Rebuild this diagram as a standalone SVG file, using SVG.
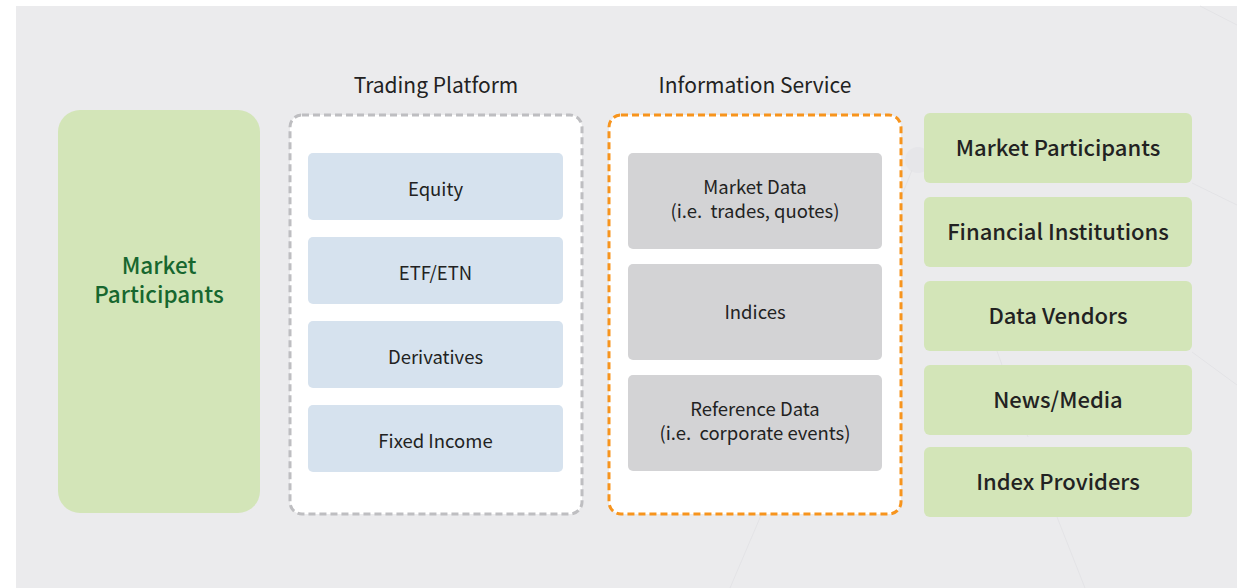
<svg xmlns="http://www.w3.org/2000/svg" width="1237" height="588" viewBox="0 0 1237 588">
  <defs>
    <style>
      .t { font-family: "Noto Sans CJK KR", "Noto Sans", "Liberation Sans", sans-serif; text-anchor: middle; fill: #222222; font-weight: 500; }
      .title { font-size: 21px; font-weight: 400; }
      .inner { font-size: 18.5px; font-weight: 400; }
      .right { font-size: 22px; }
      .green { fill: #D3E5B8; }
      .blue { fill: #D6E2EE; }
      .gray { fill: #D3D3D5; }
      .deco { stroke: #E3E3E6; stroke-width: 1; fill: none; }
    </style>
  </defs>
  <rect x="0" y="0" width="1237" height="588" fill="#FFFFFF"/>
  <rect x="16" y="6" width="1221" height="582" fill="#EBEBED"/>

  <g id="background-decor">
    <circle cx="918" cy="160" r="13" fill="#E6E6E9"/>
    <line class="deco" x1="912" y1="170" x2="900" y2="200"/>
    <line class="deco" x1="993" y1="340" x2="1028" y2="437"/>
    <line class="deco" x1="1057" y1="517" x2="1085" y2="588"/>
    <line class="deco" x1="762" y1="513" x2="730" y2="588"/>
    <line class="deco" x1="1192" y1="352" x2="1237" y2="385"/>
    <line class="deco" x1="1192" y1="183" x2="1237" y2="205"/>
    <line class="deco" x1="1200" y1="6" x2="1237" y2="25"/>
  </g>

  <g id="market-participants-left">
    <rect x="58" y="110" width="202" height="403" rx="22" class="green"/>
    <text class="t" x="159" y="274" font-size="22.5" style="fill:#17672F">Market</text>
    <text class="t" x="159" y="303" font-size="22.5" style="fill:#17672F">Participants</text>
  </g>

  <g id="trading-platform">
    <text class="t title" x="436" y="93">Trading Platform</text>
    <rect x="290" y="115" width="292" height="399" rx="12" fill="#FFFFFF" stroke="#BEBEC1" stroke-width="3" stroke-dasharray="7,4"/>
  </g>
  <g id="equity">
    <rect x="308" y="153" width="255" height="67" rx="5" class="blue"/>
    <text class="t inner" x="435.5" y="196">Equity</text>
  </g>
  <g id="etf-etn">
    <rect x="308" y="237" width="255" height="67" rx="5" class="blue"/>
    <text class="t inner" x="435.5" y="280">ETF/ETN</text>
  </g>
  <g id="derivatives">
    <rect x="308" y="321" width="255" height="67" rx="5" class="blue"/>
    <text class="t inner" x="435.5" y="364">Derivatives</text>
  </g>
  <g id="fixed-income">
    <rect x="308" y="405" width="255" height="67" rx="5" class="blue"/>
    <text class="t inner" x="435.5" y="448">Fixed Income</text>
  </g>

  <g id="information-service">
    <text class="t title" x="755" y="93">Information Service</text>
    <rect x="609" y="115" width="292" height="399" rx="12" fill="#FFFFFF" stroke="#F7941D" stroke-width="3" stroke-dasharray="7,4"/>
  </g>
  <g id="market-data">
    <rect x="628" y="153" width="254" height="96" rx="5" class="gray"/>
    <text class="t inner" x="755" y="194">Market Data</text>
    <text class="t inner" x="755" y="218">(i.e.&#160; trades, quotes)</text>
  </g>
  <g id="indices">
    <rect x="628" y="264" width="254" height="96" rx="5" class="gray"/>
    <text class="t inner" x="755" y="319">Indices</text>
  </g>
  <g id="reference-data">
    <rect x="628" y="375" width="254" height="96" rx="5" class="gray"/>
    <text class="t inner" x="755" y="416">Reference Data</text>
    <text class="t inner" x="755" y="440">(i.e.&#160; corporate events)</text>
  </g>

  <g id="market-participants-right">
    <rect x="924" y="113" width="268" height="70" rx="6" class="green"/>
    <text class="t right" x="1058" y="156">Market Participants</text>
  </g>
  <g id="financial-institutions">
    <rect x="924" y="197" width="268" height="70" rx="6" class="green"/>
    <text class="t right" x="1058" y="240">Financial Institutions</text>
  </g>
  <g id="data-vendors">
    <rect x="924" y="281" width="268" height="70" rx="6" class="green"/>
    <text class="t right" x="1058" y="324">Data Vendors</text>
  </g>
  <g id="news-media">
    <rect x="924" y="365" width="268" height="70" rx="6" class="green"/>
    <text class="t right" x="1058" y="408">News/Media</text>
  </g>
  <g id="index-providers">
    <rect x="924" y="447" width="268" height="70" rx="6" class="green"/>
    <text class="t right" x="1058" y="490">Index Providers</text>
  </g>

  <g id="connectors"></g>
</svg>
